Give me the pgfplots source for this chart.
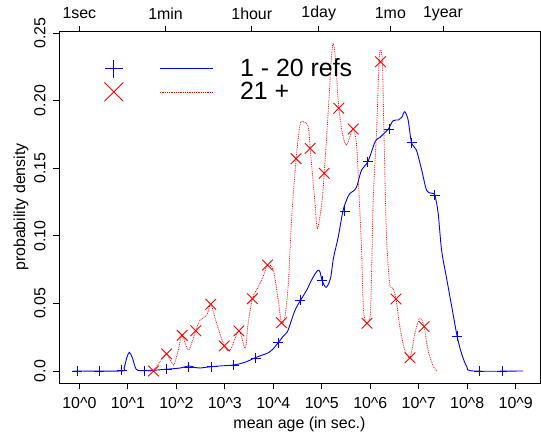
\documentclass[border=0pt]{standalone}
\usepackage{pgfplots}
\pgfplotsset{compat=1.18}
\usepackage{fontspec}
\setmainfont{Liberation Sans}
\begin{document}
\fontsize{16}{19}\selectfont
\begin{tikzpicture}
\begin{axis}[
  scale only axis, width=481bp, height=352bp,
  xmin=-0.42, xmax=9.5, ymin=-0.0089, ymax=0.2515,
  axis line style={line width=0.8bp},
  tick style={black, line width=0.8bp},
  tick align=outside, major tick length=6bp,
  xtick pos=bottom, ytick pos=left,
  xtick={0,1,2,3,4,5,6,7,8,9},
  xticklabels={10\textasciicircum 0,10\textasciicircum 1,10\textasciicircum 2,10\textasciicircum 3,10\textasciicircum 4,10\textasciicircum 5,10\textasciicircum 6,10\textasciicircum 7,10\textasciicircum 8,10\textasciicircum 9},
  ytick={0,0.05,0.1,0.15,0.2,0.25},
  yticklabels={0.0,0.05,0.10,0.15,0.20,0.25},
  xticklabel style={anchor=center, yshift=-14bp},
  yticklabel style={xshift=-13bp, rotate=90, anchor=center},
  xlabel={mean age (in sec.)},
  ylabel={probability density},
  xlabel style={at={(axis description cs:0.5,-0.1165)}, anchor=center},
  ylabel style={at={(axis description cs:-0.079,0.5)}, anchor=center},
  legend style={draw=none, fill=none, inner sep=0pt, at={(axis description cs:0.094,0.925)}, anchor=north west, font=\fontsize{25}{26}\selectfont, nodes={inner sep=1bp}, row sep=1bp},
  legend cell align=left,
]
% 1 - 20 refs curve
\addplot[blue, line width=0.9bp, smooth, forget plot] coordinates {
(-0.13,0) (0.86,0) (0.92,0.002) (0.98,0.010) (1.03,0.0138) (1.09,0.010) (1.15,0.003) (1.20,0.0005) (1.34,0.0003) (1.56,0.0006) (1.80,0.0013) (2.08,0.0022) (2.26,0.0037) (2.39,0.0025) (2.49,0.0022) (2.72,0.0032) (2.94,0.0038) (3.18,0.0044) (3.42,0.0065) (3.64,0.0100) (3.79,0.0120) (3.90,0.0135) (4.00,0.0165) (4.10,0.0209) (4.20,0.0255) (4.29,0.0290) (4.36,0.0360) (4.45,0.0451) (4.56,0.0522) (4.69,0.0599) (4.80,0.0680) (4.91,0.0742) (4.96,0.0735) (5.01,0.0666) (5.09,0.0619) (5.18,0.0686) (5.24,0.0834) (5.34,0.0993) (5.44,0.1190) (5.54,0.1290) (5.58,0.1314) (5.65,0.1331) (5.72,0.1363) (5.82,0.1487) (5.95,0.1548) (6.10,0.1696) (6.20,0.1728) (6.27,0.1753) (6.37,0.1788) (6.47,0.1851) (6.58,0.1857) (6.65,0.1876) (6.71,0.1918) (6.78,0.1857) (6.85,0.1689) (6.95,0.1635) (7.06,0.1487) (7.16,0.1339) (7.27,0.1314) (7.33,0.1302) (7.40,0.1166) (7.47,0.0895) (7.58,0.0673) (7.68,0.0476) (7.79,0.0259) (7.88,0.0131) (7.99,0.0032) (8.12,0) (9.15,0)
};
\addplot[blue, only marks, mark=+, mark size=5bp, line width=0.9bp, forget plot] coordinates {
(-0.04,0) (0.41,0) (0.87,0.0007) (1.34,0.0003) (1.80,0.0013) (2.26,0.0027) (2.73,0.0032) (3.18,0.0044) (3.64,0.0094) (4.10,0.0210) (4.56,0.0522) (5.01,0.0666) (5.47,0.1183) (5.95,0.1548) (6.39,0.1788) (6.85,0.1690) (7.33,0.1302) (7.79,0.0259) (8.25,0) (8.72,0)
};
% 21 + curve
\addplot[red, densely dotted, line width=0.8bp, smooth, forget plot] coordinates {
(1.42,0) (1.53,0.0005) (1.66,0.0069) (1.80,0.0126) (1.94,0.0044) (2.04,0.0155) (2.12,0.0264) (2.25,0.0155) (2.40,0.0298) (2.49,0.0377) (2.63,0.0414) (2.71,0.0493) (2.83,0.0353) (2.99,0.0185) (3.11,0.0155) (3.29,0.0296) (3.42,0.0168) (3.48,0.0350) (3.57,0.0535) (3.69,0.0624) (3.79,0.0697) (3.88,0.0784) (4.00,0.0747) (4.10,0.0525) (4.17,0.0357) (4.24,0.0402) (4.31,0.0648) (4.38,0.1141) (4.47,0.1568) (4.55,0.1820) (4.62,0.1844) (4.72,0.1807) (4.76,0.1647) (4.86,0.1240) (4.91,0.1055) (5.00,0.1240) (5.05,0.1462) (5.13,0.1906) (5.20,0.2325) (5.24,0.2424) (5.29,0.2275) (5.35,0.1943) (5.44,0.1733) (5.51,0.1672) (5.58,0.1733) (5.65,0.1790) (5.72,0.1659) (5.77,0.1289) (5.82,0.0900) (5.86,0.0450) (5.93,0.0353) (6.00,0.0420) (6.03,0.0771) (6.06,0.1265) (6.13,0.1783) (6.18,0.2275) (6.21,0.2374) (6.25,0.2275) (6.28,0.1783) (6.33,0.1043) (6.37,0.0771) (6.41,0.0624) (6.47,0.0612) (6.53,0.0533) (6.61,0.0328) (6.71,0.0155) (6.82,0.0098) (6.92,0.0279) (7.02,0.0390) (7.11,0.0328) (7.19,0.0155) (7.30,0.0032) (7.38,0)
};
\addplot[red, only marks, mark=x, mark size=7.5bp, line width=0.9bp, forget plot] coordinates {
(1.53,0) (1.80,0.0126) (2.12,0.0264) (2.40,0.0298) (2.71,0.0493) (2.99,0.0185) (3.29,0.0296) (3.57,0.0535) (3.88,0.0784) (4.17,0.0357) (4.47,0.1570) (4.76,0.1647) (5.05,0.1462) (5.35,0.1943) (5.65,0.1790) (5.93,0.0353) (6.21,0.2288) (6.53,0.0533) (6.82,0.0098) (7.11,0.0328)
};
\addlegendimage{legend image code/.code={
  \draw[blue, line width=0.9bp] plot[mark=+, mark size=8.7bp] coordinates {(0bp,0bp)};
  \draw[blue, line width=0.9bp] (46bp,0bp) -- (99bp,0bp);
  \path (125bp,0bp);}}
\addlegendentry{1 - 20 refs}
\addlegendimage{legend image code/.code={
  \draw[red, line width=0.9bp] plot[mark=x, mark size=13.4bp] coordinates {(0bp,0bp)};
  \draw[red, densely dotted, line width=0.8bp] (46bp,0bp) -- (99bp,0bp);
  \path (125bp,0bp);}}
\addlegendentry{21 +}
\end{axis}
\begin{axis}[
  scale only axis, width=481bp, height=352bp,
  xmin=-0.42, xmax=9.5, ymin=0, ymax=1,
  axis x line*=top, axis y line=none,
  axis line style={line width=0.8bp, -},
  tick style={black, line width=0.8bp},
  tick align=outside, major tick length=5bp,
  xtick={0,1.778,3.556,4.937,6.414,7.499},
  xticklabels={1sec,1min,1hour,1day,1mo,1year},
  xticklabel style={anchor=center, yshift=12.5bp},
]
\end{axis}
\pgfresetboundingbox
\path[use as bounding box] (-59bp,-57bp) rectangle (482bp,383bp);
\end{tikzpicture}
\end{document}
